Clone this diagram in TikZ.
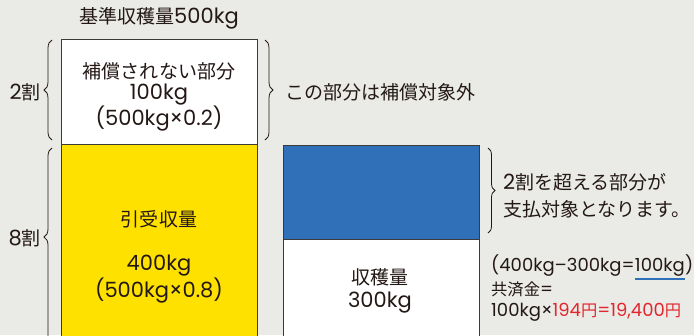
\documentclass[tikz,border=0pt]{standalone}
\usepackage{fontspec}
\setmainfont{Poppins}
\newfontfamily\jp{Noto Sans CJK JP}[Scale=0.905]
\newcommand\J[1]{{\jp #1}}
\usetikzlibrary{decorations.pathreplacing}
\definecolor{bg}{HTML}{EAEBE6}
\definecolor{yel}{HTML}{FFE100}
\definecolor{blu}{HTML}{3070B8}
\definecolor{rd}{HTML}{E3262E}
\definecolor{edge}{HTML}{3A3A3A}
\definecolor{ink}{HTML}{231815}
\begin{document}
\begin{tikzpicture}[x=1pt,y=-1pt,
  font=\fontsize{21}{21}\selectfont,
  every node/.style={text=ink, inner sep=0pt, align=center},
  boxst/.style={draw=edge, line width=1.3pt, minimum width=196pt, anchor=north west},
  brc/.style={draw=ink, line width=0.8pt, decorate, decoration={brace, amplitude=#1}},
  lbl/.style={anchor=west, align=left},
  small/.style={font=\fontsize{18}{23}\selectfont}]
\clip (0,0) rectangle (694,335);
\fill[bg] (0,0) rectangle (694,335);
% boxes
\node[boxst, fill=white, minimum height=105pt] (unc) at (61,39) {};
\node[boxst, fill=yel, minimum height=200pt] (ins) at (61,144) {};
\node[boxst, fill=blu, minimum height=94pt] (pay) at (283,145) {};
\node[boxst, fill=white, minimum height=110pt] (har) at (283,239) {};
% texts in boxes
\node (title) at (159,18) {\J{基準収穫量}500kg};
\node (unct) at (159,97) {\J{補償されない部分}\\100kg\\(500kg×0.2)};
\node (inst1) at (159,219) {\J{引受収量}};
\node (inst2) at (159,279) {400kg\\(500kg×0.8)};
\node (hart1) at (380,277) {\J{収穫量}};
\node (hart2) at (380,303) {300kg};
% left labels and braces
\node[anchor=east] (l2) at (41,92) {2\J{割}};
\node[anchor=east] (l8) at (41,238) {8\J{割}};
\coordinate (b2a) at (52,140);
\coordinate (b2b) at (52,40);
\draw[brc=8pt] (b2a) -- (b2b);
\coordinate (b8a) at (52,345);
\coordinate (b8b) at (52,148);
\draw[brc=8pt, decoration={aspect=0.548}] (b8a) -- (b8b);
% right braces
\coordinate (r1a) at (265,40);
\coordinate (r1b) at (265,140);
\draw[brc=8pt] (r1a) -- (r1b);
\node[lbl] (excl) at (285,92) {\J{この部分は補償対象外}};
\coordinate (r2a) at (488,148);
\coordinate (r2b) at (488,233);
\draw[brc=7pt] (r2a) -- (r2b);
\node[lbl, font=\fontsize{21}{27}\selectfont] (payt) at (503,196) {2\J{割を超える部分が}\\\J{支払対象となります。}};
% calculation
\node[lbl, small] (c1a) at (491,266) {(400kg–300kg=};
\node[anchor=base west, small] (c1b) at (c1a.base east) {100kg};
\node[anchor=base west, small] (c1c) at (c1b.base east) {)};
\draw[blu, line width=1.3pt] ([yshift=-2pt]c1b.south west) -- ([yshift=-2pt]c1b.south east);
\node[lbl, small] (c2) at (491,289) {\J{共済金}=};
\node[lbl, small] (c3) at (491,312) {100kg×\textcolor{rd}{194\J{円}=19,400\J{円}}};
\end{tikzpicture}
\end{document}
